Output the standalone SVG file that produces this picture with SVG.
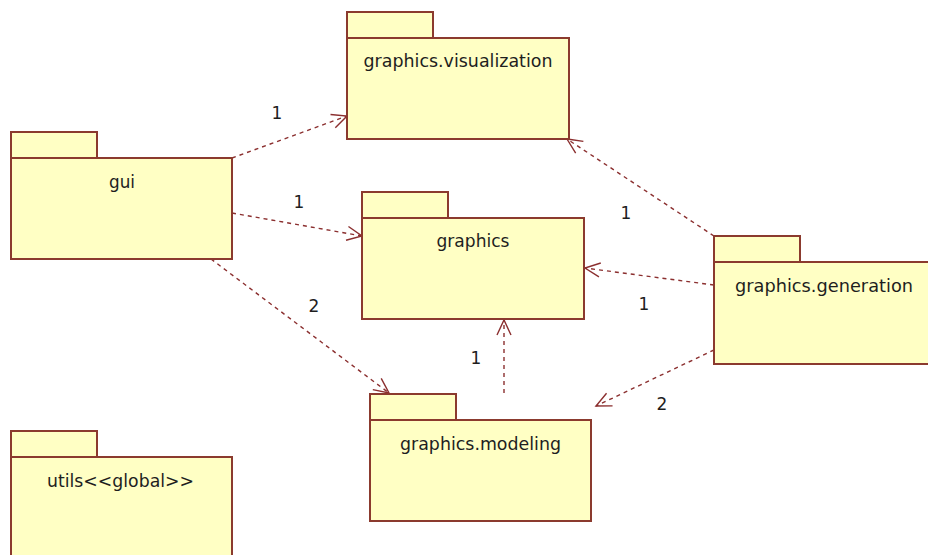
<svg xmlns="http://www.w3.org/2000/svg" width="928" height="555" viewBox="0 0 928 555">
  <style>
    .pkg rect { fill: #ffffc4; stroke: #8b3a2e; stroke-width: 2; }
    .pkg text { font-family: "DejaVu Sans", "Liberation Sans", sans-serif; font-size: 18px; fill: #1e1e1e; text-anchor: middle; }
    .dep { fill: none; stroke: #8b2f2f; stroke-width: 1.4; stroke-dasharray: 4 4; marker-end: url(#open); }
    .mult { font-family: "DejaVu Sans", "Liberation Sans", sans-serif; font-size: 17px; fill: #1e1e1e; text-anchor: middle; }
  </style>
  <defs>
    <marker id="open" markerUnits="userSpaceOnUse" markerWidth="20" markerHeight="20" refX="16" refY="8" orient="auto" overflow="visible">
      <path d="M1,1 L16,8 L1,15" fill="none" stroke="#8b2f2f" stroke-width="1.4"/>
    </marker>
  </defs>
  <rect width="928" height="555" fill="#ffffff"/>

  <g id="connectors">
    <path class="dep" d="M232,158 L347,116"/>
    <path class="dep" d="M232,213 L362,236"/>
    <path class="dep" d="M211,259 L389,393"/>
    <path class="dep" d="M714,236 L567,139"/>
    <path class="dep" d="M714,285 L585,268"/>
    <path class="dep" d="M504,393 L504,320"/>
    <path class="dep" d="M714,350 L596,406"/>
    <text class="mult" x="277" y="119">1</text>
    <text class="mult" x="299" y="208">1</text>
    <text class="mult" x="314" y="312">2</text>
    <text class="mult" x="626" y="219">1</text>
    <text class="mult" x="644" y="310">1</text>
    <text class="mult" x="476" y="364">1</text>
    <text class="mult" x="662" y="410">2</text>
  </g>

  <g id="gui" class="pkg">
    <rect x="11" y="132" width="86" height="26"/>
    <rect x="11" y="158" width="221" height="101"/>
    <text x="122" y="188" textLength="26" lengthAdjust="spacingAndGlyphs">gui</text>
  </g>

  <g id="graphics-visualization" class="pkg">
    <rect x="347" y="12" width="86" height="26"/>
    <rect x="347" y="38" width="222" height="101"/>
    <text x="458" y="67" textLength="189" lengthAdjust="spacingAndGlyphs">graphics.visualization</text>
  </g>

  <g id="graphics" class="pkg">
    <rect x="362" y="192" width="86" height="26"/>
    <rect x="362" y="218" width="222" height="101"/>
    <text x="473" y="247" textLength="73" lengthAdjust="spacingAndGlyphs">graphics</text>
  </g>

  <g id="graphics-generation" class="pkg">
    <rect x="714" y="236" width="86" height="26"/>
    <rect x="714" y="262" width="222" height="102"/>
    <text x="824" y="292" textLength="178" lengthAdjust="spacingAndGlyphs">graphics.generation</text>
  </g>

  <g id="graphics-modeling" class="pkg">
    <rect x="370" y="394" width="86" height="26"/>
    <rect x="370" y="420" width="221" height="101"/>
    <text x="480.5" y="450" textLength="161" lengthAdjust="spacingAndGlyphs">graphics.modeling</text>
  </g>

  <g id="utils" class="pkg">
    <rect x="11" y="431" width="86" height="26"/>
    <rect x="11" y="457" width="221" height="110"/>
    <text x="120.5" y="487" textLength="147" lengthAdjust="spacingAndGlyphs">utils&lt;&lt;global&gt;&gt;</text>
  </g>
</svg>
